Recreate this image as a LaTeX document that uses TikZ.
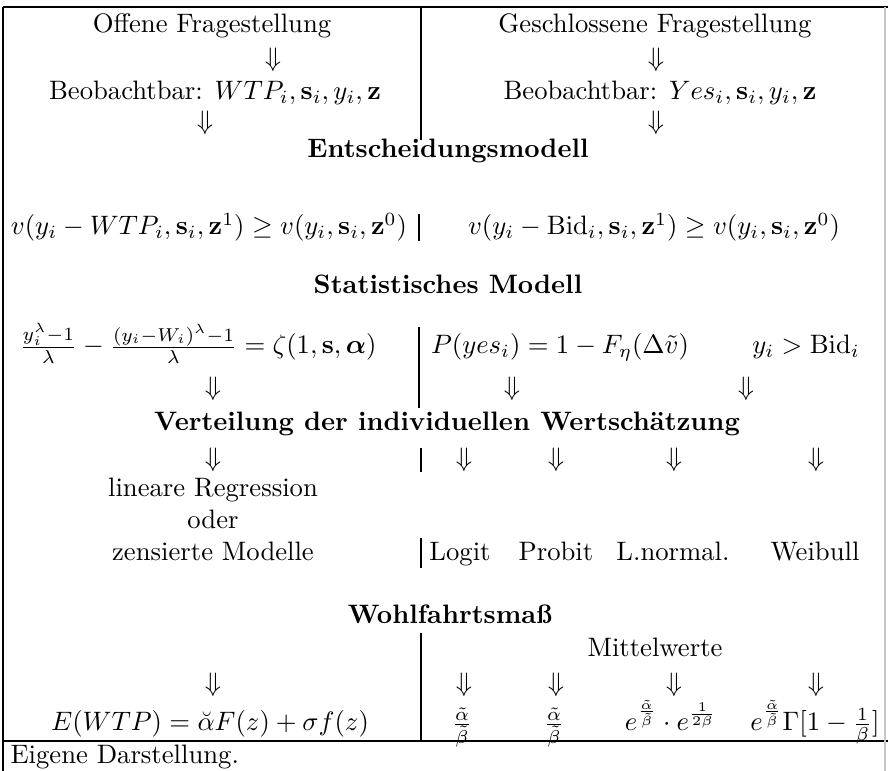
\documentclass[tikz,border=0pt]{standalone}
\usepackage{amsmath,amssymb}
\begin{document}
\begin{tikzpicture}[x=0.375pt,y=-0.375pt,
  txt/.style={inner sep=0pt,anchor=base,font=\fontsize{10}{12}\selectfont},
  hd/.style={inner sep=0pt,anchor=base,font=\fontsize{10}{12}\selectfont\bfseries},
  frame/.style={line width=0.75pt},
  sep/.style={line width=0.5pt},
  faint/.style={line width=0.4pt,gray!45}]
\useasboundingbox (0,0) rectangle (888,771);
% frame
\draw[frame] (3,7) -- (888,7);
\draw[frame] (3,7) -- (3,771);
\draw[frame] (3,741) -- (888,741);
\draw[faint] (885,7) -- (885,771);
% column separators
\draw[sep] (421,7) -- (421,140);
\draw[sep] (419,214) -- (419,241);
\draw[sep] (419,327) -- (419,408);
\draw[sep] (421,448) -- (421,472);
\draw[sep] (421,538) -- (421,568);
\draw[sep] (421,633) -- (421,741);
% top block
\node[txt] (offen) at (212,33) {Offene Fragestellung};
\node[txt] (aL1) at (273,67) {$\Downarrow$};
\node[txt] (beobL) at (215,100) {Beobachtbar: $WTP_i,\mathbf{s}_i,y_i,\mathbf{z}$};
\node[txt] (aL2) at (205,130) {$\Downarrow$};
\node[txt] (geschl) at (655,33) {Geschlossene Fragestellung};
\node[txt] (aR1) at (656,67) {$\Downarrow$};
\node[txt] (beobR) at (660,100) {Beobachtbar: $Yes_i,\mathbf{s}_i,y_i,\mathbf{z}$};
\node[txt] (aR2) at (656,130) {$\Downarrow$};
% decision model
\node[hd] (ent) at (448,158) {Entscheidungsmodell};
\node[txt] (vL) at (209,235) {$v(y_i-WTP_i,\mathbf{s}_i,\mathbf{z}^1)\geq v(y_i,\mathbf{s}_i,\mathbf{z}^0)$};
\node[txt] (vR) at (654,235) {$v(y_i-\mathrm{Bid}_i,\mathbf{s}_i,\mathbf{z}^1)\geq v(y_i,\mathbf{s}_i,\mathbf{z}^0)$};
% statistical model
\node[hd] (stat) at (448,294) {Statistisches Modell};
\node[txt] (sL) at (198,354) {$\frac{y_i^\lambda-1}{\lambda}-\frac{(y_i-W_i)^\lambda-1}{\lambda}=\zeta(1,\mathbf{s},\boldsymbol{\alpha})$};
\node[txt] (sR) at (560,354) {$P(yes_i)=1-F_\eta(\Delta\tilde{v})$};
\node[txt] (sR2) at (806,354) {$y_i>\mathrm{Bid}_i$};
\node[txt] (bL1) at (213,396) {$\Downarrow$};
\node[txt] (bR1) at (512,396) {$\Downarrow$};
\node[txt] (bR2) at (746,396) {$\Downarrow$};
% distribution
\node[hd] (vert) at (447,431) {Verteilung der individuellen Wertschätzung};
\node[txt] (cL) at (213,467) {$\Downarrow$};
\node[txt] (c1) at (464,467) {$\Downarrow$};
\node[txt] (c2) at (556,467) {$\Downarrow$};
\node[txt] (c3) at (674,467) {$\Downarrow$};
\node[txt] (c4) at (816,467) {$\Downarrow$};
\node[txt] (lin) at (213,497) {lineare Regression};
\node[txt] (oder) at (213,529) {oder};
\node[txt] (zens) at (213,561) {zensierte Modelle};
\node[txt] (logit) at (460,561) {Logit};
\node[txt] (probit) at (556,561) {Probit};
\node[txt] (lnorm) at (673,561) {L.normal.};
\node[txt] (weib) at (815,561) {Weibull};
% welfare
\node[hd] (wohl) at (450,624) {Wohlfahrtsmaß};
\node[txt] (mittel) at (655,657) {Mittelwerte};
\node[txt] (dL) at (213,692) {$\Downarrow$};
\node[txt] (d1) at (464,692) {$\Downarrow$};
\node[txt] (d2) at (556,692) {$\Downarrow$};
\node[txt] (d3) at (674,692) {$\Downarrow$};
\node[txt] (d4) at (816,692) {$\Downarrow$};
\node[txt] (eL) at (210,731) {$E(WTP)=\breve{\alpha}F(z)+\sigma f(z)$};
\node[txt] (e1) at (462,731) {$\frac{\tilde{\alpha}}{\tilde{\beta}}$};
\node[txt] (e2) at (554,731) {$\frac{\tilde{\alpha}}{\tilde{\beta}}$};
\node[txt] (e3) at (671,731) {$e^{\frac{\tilde{\alpha}}{\tilde{\beta}}}\cdot e^{\frac{1}{2\beta}}$};
\node[txt] (e4) at (815,731) {$e^{\frac{\tilde{\alpha}}{\tilde{\beta}}}\Gamma[1-\frac{1}{\beta}]$};
% source
\node[txt,anchor=base west] (src) at (10,764) {Eigene Darstellung.};
\end{tikzpicture}
\end{document}
